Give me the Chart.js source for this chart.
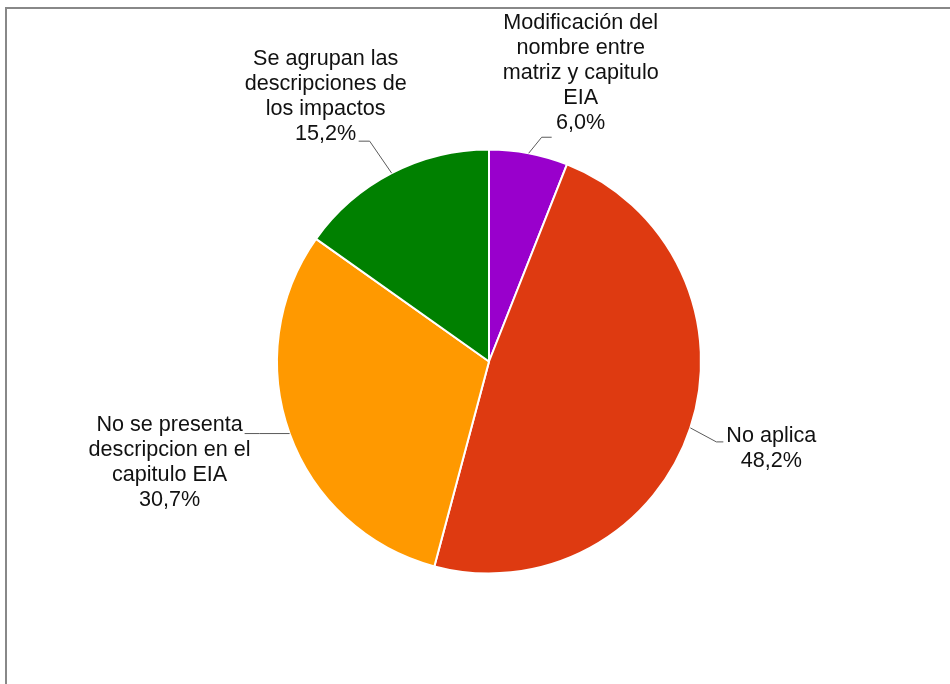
<!DOCTYPE html>
<html>
<head>
<meta charset="utf-8">
<script src="https://cdn.jsdelivr.net/npm/chart.js@4/dist/chart.umd.min.js"></script>
<style>
  html, body { margin: 0; padding: 0; background: #fff; }
  #wrap { position: relative; width: 950px; height: 684px; overflow: hidden; }
  #frame { position: absolute; left: 5px; top: 7px; width: 960px; height: 700px;
           border-left: 2px solid #888; border-top: 2px solid #888; }
  #myChart { position: absolute; left: 0; top: 0; }
</style>
</head>
<body>
<div id="wrap">
  <div id="frame"></div>
  <canvas id="myChart" width="950" height="684"></canvas>
</div>
<script>
// categories (one entry per line of the label text)
var categories = [
  ['Modificación del', 'nombre entre', 'matriz y capitulo', 'EIA'],
  ['No aplica'],
  ['No se presenta', 'descripcion en el', 'capitulo EIA'],
  ['Se agrupan las', 'descripciones de', 'los impactos']
];
var percents = [6.0, 48.2, 30.7, 15.2];
var sliceColors = ['#9900CC', '#DE3A11', '#FF9900', '#008000'];

// leader line bends + text placement, offsets from the slice edge
var labelLayout = [
  { elbow: [13, -16], end: [23, -16], textX: 29, textY: -114 },
  { elbow: [26, 14], end: [33, 14], textX: 48, textY: -6 },
  { elbow: [-30, 0], end: [-45, 0], textX: -75, textY: -9 },
  { elbow: [-22, -32], end: [-33, -32], textX: -33, textY: -82 }
];

var fmtPct = function (v) {
  return v.toFixed(1).replace('.', ',') + '%';
};

var sliceLabels = {
  id: 'sliceLabels',
  afterDraw: function (chart) {
    var ctx = chart.ctx;
    var arcs = chart.getDatasetMeta(0).data;
    ctx.save();
    ctx.font = '21.6px "Liberation Sans", Arial, sans-serif';
    ctx.textAlign = 'center';
    ctx.textBaseline = 'middle';
    arcs.forEach(function (arc, i) {
      var mid = (arc.startAngle + arc.endAngle) / 2;
      var ex = arc.x + Math.cos(mid) * arc.outerRadius;
      var ey = arc.y + Math.sin(mid) * arc.outerRadius;
      var lay = labelLayout[i];

      ctx.strokeStyle = '#5a5a5a';
      ctx.lineWidth = 1;
      ctx.beginPath();
      ctx.moveTo(ex, ey);
      ctx.lineTo(ex + lay.elbow[0], ey + lay.elbow[1]);
      ctx.lineTo(ex + lay.end[0], ey + lay.end[1]);
      ctx.stroke();

      var lines = categories[i].concat([fmtPct(percents[i])]);
      var tx = ex + lay.end[0] + lay.textX;
      var ty = ey + lay.end[1] + lay.textY;
      ctx.fillStyle = '#111';
      lines.forEach(function (txt, k) {
        ctx.fillText(txt, tx, ty + k * 25);
      });
    });
    ctx.restore();
  }
};

var createChart = function () {
  var ctx = document.getElementById('myChart');
  return new Chart(ctx, {
    type: 'pie',
    data: {
      labels: categories,
      datasets: [{
        data: percents,
        backgroundColor: sliceColors,
        borderColor: '#ffffff',
        borderWidth: 2
      }]
    },
    options: {
      responsive: false,
      animation: false,
      layout: { padding: { top: 147, bottom: 108, left: 276, right: 248 } },
      plugins: {
        legend: { display: false },
        tooltip: { enabled: false }
      }
    },
    plugins: [sliceLabels]
  });
};

createChart();
</script>
</body>
</html>
